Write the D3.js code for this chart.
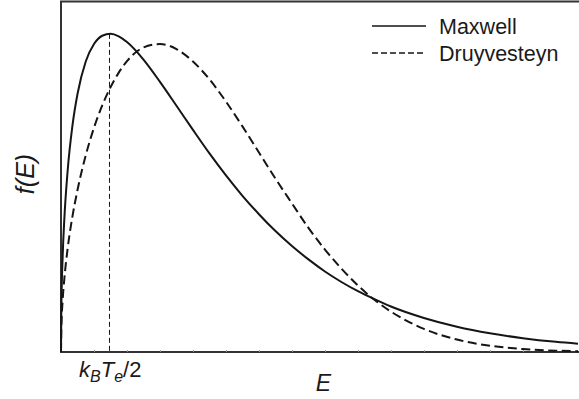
<!DOCTYPE html>
<html>
<head>
<meta charset="utf-8">
<script src="https://cdn.jsdelivr.net/npm/d3@7"></script>
<style>
  html, body { margin: 0; padding: 0; background: #fff; }
  svg { display: block; }
  text { font-family: "Liberation Sans", Arial, Helvetica, sans-serif; fill: #1a1a1a; }
</style>
</head>
<body>
<svg id="chart" width="579" height="399"></svg>
<script>
// Energy grid (arbitrary units, one unit per minor tick)
const energy = [0, 0.01, 0.05, 0.1, 0.2, 0.35, 0.5, 0.75, 1, 1.25, 1.5, 1.75, 2, 2.5, 3, 3.5, 4, 4.5, 5, 5.5, 6, 6.5, 7, 7.5, 8, 8.5, 9, 9.5, 10, 11, 12, 13, 14, 15, 15.67];

// Maxwell distribution f(E), normalised to its peak
const maxwell = [0, 0.136, 0.299, 0.416, 0.568, 0.714, 0.811, 0.913, 0.968, 0.994, 1.000, 0.992, 0.974, 0.919, 0.849, 0.774, 0.698, 0.624, 0.555, 0.491, 0.433, 0.380, 0.333, 0.291, 0.253, 0.220, 0.191, 0.166, 0.143, 0.107, 0.0795, 0.0589, 0.0435, 0.032, 0.0261];

// Druyvesteyn distribution f(E), same scale
const druyvesteyn = [0, 0.073, 0.162, 0.229, 0.324, 0.428, 0.509, 0.618, 0.705, 0.775, 0.832, 0.878, 0.914, 0.957, 0.968, 0.952, 0.913, 0.857, 0.787, 0.709, 0.627, 0.545, 0.467, 0.390, 0.322, 0.262, 0.209, 0.164, 0.127, 0.0726, 0.039, 0.0197, 0.0094, 0.0042, 0.0024];

// Position of the Maxwell peak, E = kB*Te/2
const peakEnergy = 1.47;
const peakValue = 1.0;

const seriesNames = ["Maxwell", "Druyvesteyn"];
const xTicks = d3.range(0, 16, 1);

const svg = d3.select("#chart");
const plot = { left: 61, right: 578, top: 2, bottom: 352 };

const x = d3.scaleLinear().domain([0, 15.67]).range([plot.left, plot.right]);
const y = d3.scaleLinear().domain([0, 1.1]).range([plot.bottom, plot.top]);

const ink = "#151515";

// Frame: left axis plus top border
svg.append("path")
  .attr("d", `M${plot.left},${plot.bottom} L${plot.left},${plot.top - 0.5} L${plot.right + 5},${plot.top - 0.5}`)
  .attr("fill", "none").attr("stroke", "#333").attr("stroke-width", 2);

// Bottom axis with faint inward ticks, no numbers
const xAxis = d3.axisBottom(x).tickValues(xTicks).tickSize(-2).tickFormat("");
const gx = svg.append("g").attr("transform", `translate(0,${plot.bottom})`).call(xAxis);
gx.select(".domain").attr("stroke", "#333").attr("stroke-width", 2)
  .attr("d", `M${plot.left - 1},0H${plot.right + 5}`);
gx.selectAll(".tick line").attr("stroke", "#999").attr("stroke-width", 1);

// Curves
const rows = energy.map((e, i) => ({ e, m: maxwell[i], d: druyvesteyn[i] }));
const lineM = d3.line().x(r => x(r.e)).y(r => y(r.m)).curve(d3.curveMonotoneX);
const lineD = d3.line().x(r => x(r.e)).y(r => y(r.d)).curve(d3.curveMonotoneX);

// Marker from the Maxwell peak down to the axis
svg.append("line")
  .attr("x1", x(peakEnergy)).attr("x2", x(peakEnergy))
  .attr("y1", y(peakValue)).attr("y2", plot.bottom)
  .attr("stroke", ink).attr("stroke-width", 1).attr("stroke-dasharray", "5,3");

svg.append("path").datum(rows).attr("d", lineD)
  .attr("fill", "none").attr("stroke", ink).attr("stroke-width", 2)
  .attr("stroke-dasharray", "9,4.5");

svg.append("path").datum(rows).attr("d", lineM)
  .attr("fill", "none").attr("stroke", ink).attr("stroke-width", 2);

// Legend
const legend = svg.append("g");
const legendY = [26, 53];
seriesNames.forEach((name, i) => {
  legend.append("line")
    .attr("x1", 372).attr("x2", 426)
    .attr("y1", legendY[i]).attr("y2", legendY[i])
    .attr("stroke", ink).attr("stroke-width", 1.3)
    .attr("stroke-dasharray", i === 1 ? "6,3" : null);
  legend.append("text")
    .attr("x", 439).attr("y", legendY[i] + 7.5)
    .attr("font-size", 21.5)
    .text(name);
});

// Peak energy label k_B T_e / 2
const lbl = svg.append("text").attr("x", 79).attr("y", 377).attr("font-size", 22);
lbl.append("tspan").attr("font-style", "italic").text("k");
lbl.append("tspan").attr("font-style", "italic").attr("font-size", 16).attr("dy", 5).text("B");
lbl.append("tspan").attr("font-style", "italic").attr("dy", -5).text("T");
lbl.append("tspan").attr("font-style", "italic").attr("font-size", 16).attr("dy", 5).text("e");
lbl.append("tspan").attr("dy", -5).text("/2");

// Axis titles
svg.append("text")
  .attr("x", (plot.left + plot.right) / 2 + 4).attr("y", 391)
  .attr("text-anchor", "middle").attr("font-size", 23).attr("font-style", "italic")
  .text("E");

svg.append("text")
  .attr("transform", `translate(34,174) rotate(-90)`)
  .attr("text-anchor", "middle").attr("font-size", 25).attr("font-style", "italic")
  .text("f(E)");
</script>
</body>
</html>
